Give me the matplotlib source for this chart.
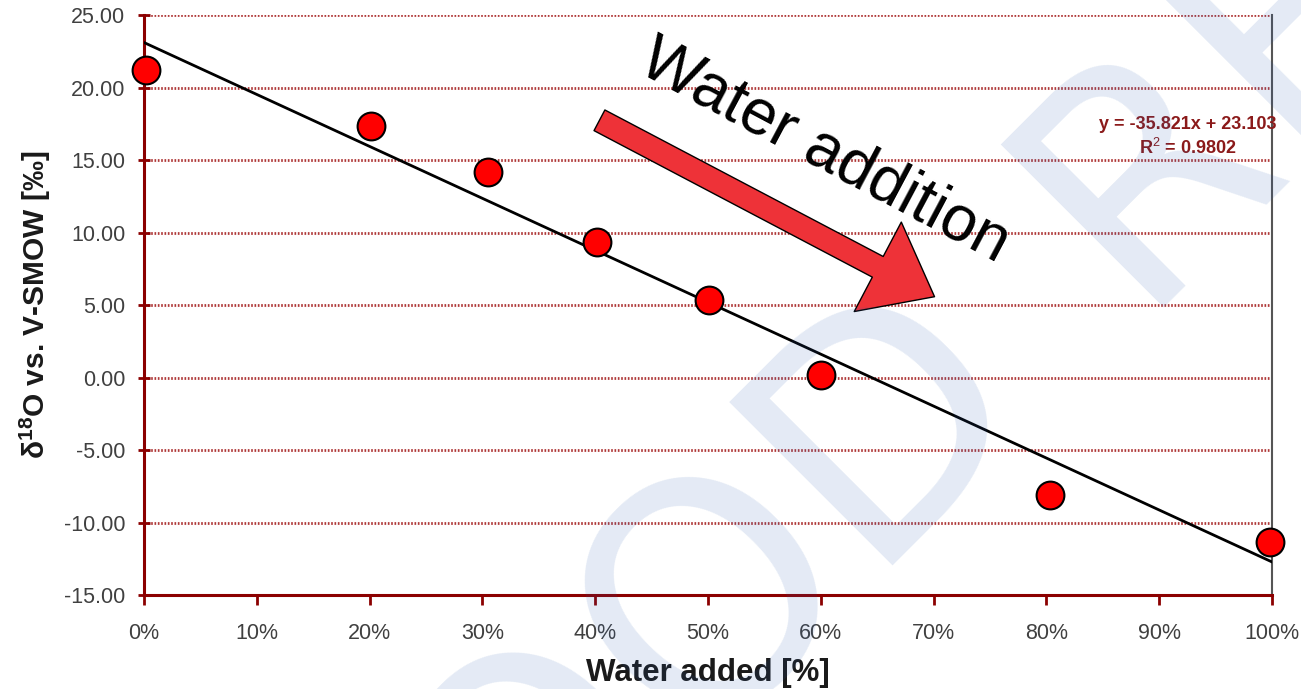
import matplotlib.pyplot as plt
from matplotlib.patches import FancyArrowPatch
from matplotlib.ticker import FuncFormatter, MultipleLocator

plt.rcParams['font.family'] = ['Liberation Sans', 'DejaVu Sans']
plt.rcParams['mathtext.fontset'] = 'custom'
plt.rcParams['mathtext.rm'] = 'Liberation Sans'
plt.rcParams['mathtext.bf'] = 'Liberation Sans:bold'

# water fraction vs delta 18O
water_added = [0.002, 0.201, 0.305, 0.402, 0.501, 0.600, 0.803, 0.998]
delta18o = [21.2, 17.35, 14.17, 9.35, 5.35, 0.15, -8.1, -11.35]

# linear trend (as reported on the chart)
slope = -35.821
intercept = 23.103
r_squared = 0.9802

fig = plt.figure(figsize=(13.01, 6.89), dpi=100)
ax = fig.add_axes([0.1107, 0.1364, 0.9777 - 0.1107, 0.9782 - 0.1364])

ax.set_xlim(0, 1)
ax.set_ylim(-15, 25)

# grid
ax.yaxis.set_major_locator(MultipleLocator(5))
ax.xaxis.set_major_locator(MultipleLocator(0.1))
ax.grid(axis='y', color='#b03a3a', lw=2, ls=(0, (0.6, 0.6)), zorder=0)
ax.set_axisbelow(True)

# trend line
tx = [0, 1]
ty = [intercept + slope * v for v in tx]
ax.plot(tx, ty, color='black', lw=2, zorder=3)

# points
ax.plot(water_added, delta18o, 'o', ms=20, mfc='#ff0000', mec='black', mew=1.5,
        clip_on=False, zorder=4)

# axes styling
for s in ['left', 'bottom']:
    ax.spines[s].set_color('#8b0000')
    ax.spines[s].set_linewidth(2.2)
ax.spines['top'].set_visible(False)
ax.spines['right'].set_color('#555555')
ax.spines['right'].set_linewidth(1.5)
ax.tick_params(axis='y', direction='inout', length=9, width=2, color='#8b0000',
               labelsize=15.5, labelcolor='#404040', pad=9)
ax.tick_params(axis='x', direction='out', length=7, width=2, color='#8b0000',
               labelsize=15.5, labelcolor='#404040', pad=13)
ax.yaxis.set_major_formatter(FuncFormatter(lambda v, p: f'{v:.2f}'))
ax.xaxis.set_major_formatter(FuncFormatter(lambda v, p: f'{v * 100:.0f}%'))

ax.set_xlabel('Water added [%]', fontsize=22.5, fontweight='bold', color='#1a1a1a', labelpad=10)
ax.set_ylabel(r'$\mathbf{\delta^{18}}$O vs. V-SMOW [‰]', fontsize=21.5, fontweight='bold',
              color='#1a1a1a', labelpad=8)

# trend equation
ax.text(0.925, 0.79, f'y = {slope}x + {intercept}\nR$^2$ = {r_squared}',
        transform=ax.transAxes, ha='center', va='center', fontsize=13,
        fontweight='bold', color='#8b1a1a', linespacing=1.3, zorder=5)

# annotation arrow
arrow = FancyArrowPatch((597 / 1301, 1 - 119 / 689), (937 / 1301, 1 - 298 / 689),
                        transform=fig.transFigure,
                        arrowstyle='simple,head_width=5.2,head_length=3.3,tail_width=1.2',
                        mutation_scale=14, fc='#ee3238', ec='black', lw=1, zorder=6)
fig.patches.append(arrow)
fig.text(825 / 1301, 1 - 152 / 689, 'Water addition', rotation=-28, fontsize=46,
         ha='center', va='center', color='black', rotation_mode='anchor', zorder=7)

# watermark, two words
wm = dict(rotation=45, rotation_mode='anchor', ha='left', va='baseline', fontsize=227,
          family='DejaVu Sans', color='#2a5cb0', alpha=0.13, zorder=10)
fig.text(342 / 1301, 1 - 1098 / 689, 'GOOD', **wm)
fig.text(1133 / 1301, 1 - 307 / 689, 'RE', **wm)

fig.savefig('out.png', dpi=100)
